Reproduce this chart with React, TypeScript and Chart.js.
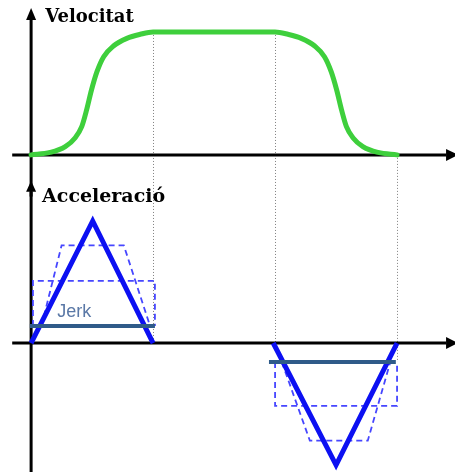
import { useEffect, useRef } from "react";
import { Chart, registerables } from "chart.js";

Chart.register(...registerables);

// Time is measured in phase units: ramp-up 0–2, cruise 2–4, ramp-down 4–6.
const velocityTime = [0, 0.31, 0.56, 0.72, 0.83, 0.91, 0.99, 1.08, 1.19, 1.35, 1.57, 1.79, 2.0, 4.0, 4.21, 4.43, 4.65, 4.81, 4.92, 5.01, 5.09, 5.17, 5.28, 5.44, 5.69, 6.0];
const velocityValue = [0, 0.02, 0.067, 0.138, 0.23, 0.366, 0.528, 0.677, 0.799, 0.886, 0.948, 0.981, 1, 1, 0.981, 0.948, 0.886, 0.799, 0.677, 0.528, 0.366, 0.23, 0.138, 0.067, 0.02, 0];

// Triangular acceleration pulses
const accelUpTime = [0, 1.01, 2.0];
const accelUpValue = [0, 1, 0];
const accelDownTime = [3.97, 5.0, 6.0];
const accelDownValue = [0, -1, 0];

// Constant-jerk levels
const jerkUpTime = [-0.02, 2.03];
const jerkUpValue = [0.14, 0.14];
const jerkDownTime = [3.9, 5.98];
const jerkDownValue = [-0.155, -0.155];

// Alternative profiles (dashed): square pulse and trapezoid
const squareUpTime = [0.03, 0.03, 2.03, 2.03];
const squareUpValue = [0.14, 0.51, 0.51, 0.14];
const squareDownTime = [4.0, 4.0, 6.0, 6.0];
const squareDownValue = [-0.155, -0.515, -0.515, -0.155];
const trapUpTime = [0.17, 0.5, 1.52, 1.95];
const trapUpValue = [0.14, 0.8, 0.8, 0.14];
const trapDownTime = [4.11, 4.57, 5.52, 5.89];
const trapDownValue = [-0.155, -0.8, -0.8, -0.155];

// Dotted phase guides: time, start on velocity scale, end on acceleration scale
const guideTime = [2, 4, 6];
const guideFromVelocity = [1, 1, 0];
const guideToAccel = [0, 0, -0.155];

const panelTitles = ["Velocitat", "Acceleració"];
const jerkLabel = "Jerk";

const zip = (xs: number[], ys: number[]) => xs.map((x, i) => ({ x, y: ys[i] }));

const BLUE = "#0c10f2";
const DASH_BLUE = "#4646ff";
const JERK_BLUE = "#2f5b89";

function arrowLine(
  ctx: CanvasRenderingContext2D,
  x1: number, y1: number, x2: number, y2: number,
  head: number, half: number
) {
  const ang = Math.atan2(y2 - y1, x2 - x1);
  const bx = x2 - Math.cos(ang) * head;
  const by = y2 - Math.sin(ang) * head;
  ctx.beginPath();
  ctx.moveTo(x1, y1);
  ctx.lineTo(bx, by);
  ctx.stroke();
  ctx.beginPath();
  ctx.moveTo(x2, y2);
  ctx.lineTo(bx + Math.sin(ang) * half, by - Math.cos(ang) * half);
  ctx.lineTo(bx - Math.sin(ang) * half, by + Math.cos(ang) * half);
  ctx.closePath();
  ctx.fill();
}

const diagramPlugin = {
  id: "motionDiagram",
  beforeDatasetsDraw(chart: any) {
    const { ctx } = chart;
    const xs = chart.scales.x;
    const yv = chart.scales.yv;
    const ya = chart.scales.ya;

    // dotted phase guides
    ctx.save();
    ctx.strokeStyle = "#808080";
    ctx.lineWidth = 1;
    ctx.setLineDash([1, 2]);
    guideTime.forEach((t, i) => {
      const px = Math.round(xs.getPixelForValue(t)) + 0.5;
      ctx.beginPath();
      ctx.moveTo(px, yv.getPixelForValue(guideFromVelocity[i]));
      ctx.lineTo(px, ya.getPixelForValue(guideToAccel[i]));
      ctx.stroke();
    });
    ctx.restore();

    // axes with arrowheads
    ctx.save();
    ctx.strokeStyle = "#000";
    ctx.fillStyle = "#000";
    ctx.lineWidth = 3;
    const x0 = xs.getPixelForValue(0);
    const xStart = xs.getPixelForValue(-0.31);
    const xEnd = xs.getPixelForValue(7.0);
    const yv0 = yv.getPixelForValue(0);
    const ya0 = ya.getPixelForValue(0);
    arrowLine(ctx, xStart, yv0, xEnd, yv0, 12, 6);
    arrowLine(ctx, xStart, ya0, xEnd, ya0, 12, 6);
    // vertical axis runs the full height, with an arrowhead at each panel top
    arrowLine(ctx, x0, chart.chartArea.bottom + 5, x0, yv.getPixelForValue(1.195), 12, 5);
    arrowLine(ctx, x0, ya.getPixelForValue(1.2), x0, ya.getPixelForValue(1.33), 11, 5);
    ctx.restore();
  },
  afterDatasetsDraw(chart: any) {
    const { ctx } = chart;
    const xs = chart.scales.x;
    const yv = chart.scales.yv;
    const ya = chart.scales.ya;
    ctx.save();
    ctx.fillStyle = "#000";
    ctx.textBaseline = "alphabetic";
    ctx.textAlign = "left";
    ctx.font = 'bold 18px "DejaVu Serif"';
    ctx.fillText(panelTitles[0], xs.getPixelForValue(0.23), yv.getPixelForValue(1.08));
    ctx.font = 'bold 19px "DejaVu Serif"';
    ctx.fillText(panelTitles[1], xs.getPixelForValue(0.18), ya.getPixelForValue(1.156));
    ctx.fillStyle = "#5a78a6";
    ctx.font = '18px "Liberation Sans"';
    ctx.fillText(jerkLabel, xs.getPixelForValue(0.43), ya.getPixelForValue(0.213));
    ctx.restore();
  },
};

export default function App() {
  const ref = useRef<HTMLCanvasElement | null>(null);

  useEffect(() => {
    if (!ref.current) return;
    const line = (data: any[], color: string, width: number, yAxisID: string, order: number, extra: any = {}) => ({
      type: "line",
      data,
      borderColor: color,
      backgroundColor: color,
      borderWidth: width,
      pointRadius: 0,
      fill: false,
      tension: 0,
      yAxisID,
      order,
      clip: false,
      borderCapStyle: "butt",
      borderJoinStyle: "miter",
      ...extra,
    });
    const dashed = { borderDash: [6, 4] };

    const chart = new Chart(ref.current, {
      type: "line",
      data: {
        datasets: [
          line(zip(velocityTime, velocityValue), "#3ecf3c", 5, "yv", 0, { cubicInterpolationMode: "monotone", borderCapStyle: "round", borderJoinStyle: "round" }),
          line(zip(jerkUpTime, jerkUpValue), JERK_BLUE, 4, "ya", 1),
          line(zip(jerkDownTime, jerkDownValue), JERK_BLUE, 4, "ya", 1),
          line(zip(accelUpTime, accelUpValue), BLUE, 5, "ya", 2),
          line(zip(accelDownTime, accelDownValue), BLUE, 5, "ya", 2),
          line(zip(squareUpTime, squareUpValue), DASH_BLUE, 1.8, "ya", 3, dashed),
          line(zip(squareDownTime, squareDownValue), DASH_BLUE, 1.8, "ya", 3, dashed),
          line(zip(trapUpTime, trapUpValue), DASH_BLUE, 1.8, "ya", 3, dashed),
          line(zip(trapDownTime, trapDownValue), DASH_BLUE, 1.8, "ya", 3, dashed),
        ] as any,
      },
      options: {
        animation: false,
        responsive: false,
        maintainAspectRatio: false,
        layout: { padding: 0 },
        plugins: { legend: { display: false }, tooltip: { enabled: false } },
        scales: {
          x: { type: "linear", min: -0.51, max: 6.95, display: false },
          yv: { type: "linear", min: -2.58, max: 1.26, display: false },
          ya: { type: "linear", min: -1.057, max: 2.811, display: false },
        },
      },
      plugins: [diagramPlugin],
    });
    return () => chart.destroy();
  }, []);

  return (
    <div style={{ position: "fixed", left: 0, top: 0, width: 455, height: 472, background: "#fff" }}>
      <canvas ref={ref} width={455} height={472} style={{ display: "block" }} />
    </div>
  );
}
